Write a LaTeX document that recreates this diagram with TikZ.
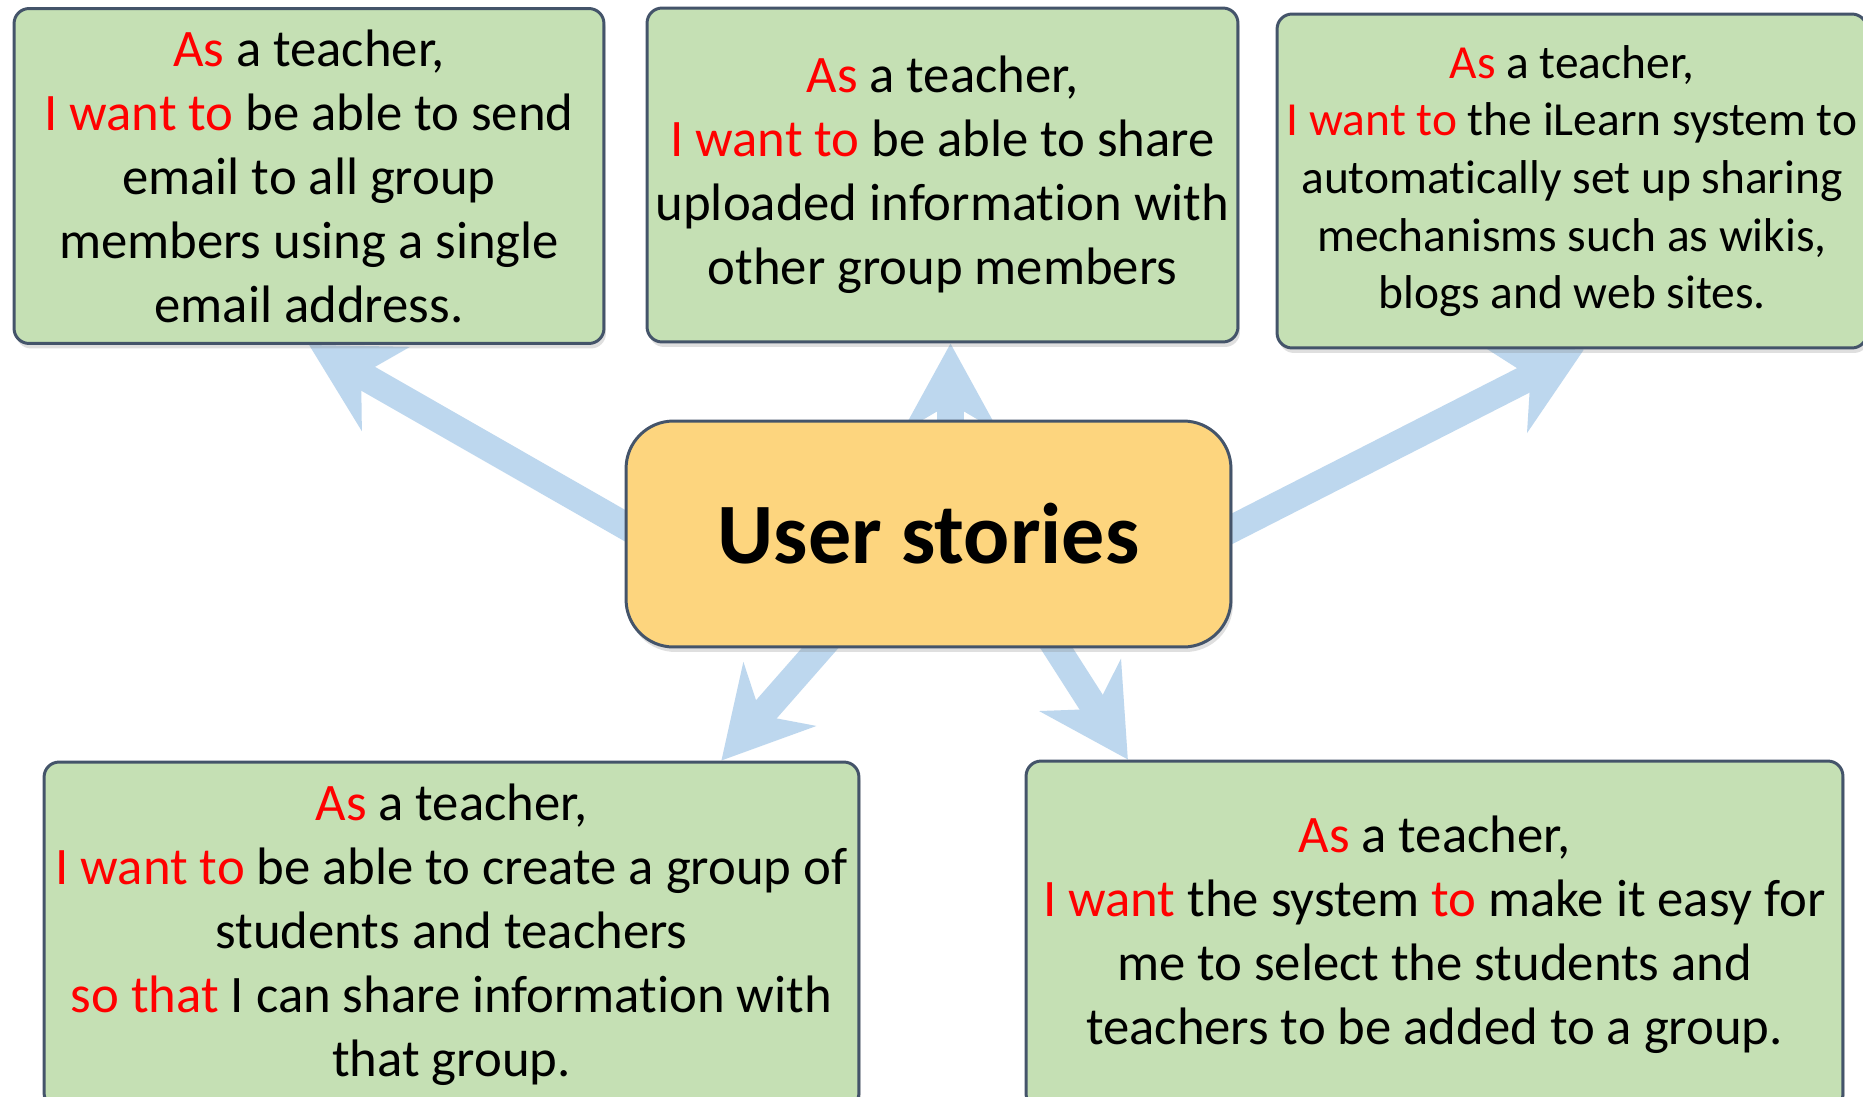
\documentclass[tikz,border=0pt]{standalone}
\usepackage{fontspec}
\setmainfont{Carlito}[Ligatures=NoCommon]
\usetikzlibrary{arrows.meta, calc, shadows, backgrounds}
\definecolor{storygreen}{RGB}{197,224,180}
\definecolor{hubgold}{RGB}{253,213,126}
\definecolor{edgeslate}{RGB}{68,84,106}
\definecolor{flowblue}{RGB}{189,215,238}
\newcommand{\kw}[1]{\textcolor{red}{#1}}
\tikzset{
  story/.style={draw=edgeslate, line width=1.7pt, fill=storygreen, rounded corners=0.3cm,
    align=center, inner sep=0pt, font=\fontsize{30}{36.4}\selectfont,
    drop shadow={shadow xshift=0.04cm, shadow yshift=-0.1cm, opacity=0.25}},
  hub/.style={draw=edgeslate, line width=1.7pt, fill=hubgold, rounded corners=0.95cm,
    align=center, inner sep=0pt, font=\fontsize{49}{60}\selectfont\bfseries,
    drop shadow={shadow xshift=0.04cm, shadow yshift=-0.1cm, opacity=0.25}},
  flow/.style={draw=flowblue, line width=0.55cm, -{Stealth[length=1.75cm, width=1.9cm, inset=0.55cm]}}
}

\begin{document}
\begin{tikzpicture}[x=0.02cm,y=-0.02cm]
  \useasboundingbox (0,0) rectangle (1863,1096);
  % Central topic
  \node[hub, minimum width=12.1cm, minimum height=4.52cm] (us) at(928.5,534) {User stories};
  % Top row of stories
  \node[story, minimum width=11.8cm, minimum height=6.7cm] (s1) at(309,176)
    {\kw{As} a teacher,\\ \kw{I want to} be able to send\\ email to all group\\ members using a single\\ email address.};
  \node[story, minimum width=11.82cm, minimum height=6.68cm] (s2) at(942.5,175)
    {\kw{As} a teacher,\\ \kw{I want to} be able to share\\ uploaded information with\\ other group members};
  \node[story, minimum width=11.8cm, minimum height=6.68cm, font=\fontsize{27}{32.8}\selectfont] (s3) at(1572,181)
    {\kw{As} a teacher,\\ \kw{I want to} the iLearn system to\\ automatically set up sharing\\ mechanisms such as wikis,\\ blogs and web sites.};
  % Bottom row of stories
  \node[story, minimum width=16.3cm, minimum height=6.92cm] (s4) at(451.5,935)
    {\kw{As} a teacher,\\ \kw{I want to} be able to create a group of\\ students and teachers\\ \kw{so that} I can share information with\\ that group.};
  \node[story, minimum width=16.34cm, minimum height=6.96cm] (s5) at(1434.5,935)
    {\kw{As} a teacher,\\ \kw{I want} the system \kw{to} make it easy for\\ me to select the students and\\ teachers to be added to a group.};
  % Arrows behind the boxes
  \begin{scope}[on background layer]
    \fill[white](0,0) rectangle (1863,1096);
    \draw[flow]($(us.west)+(50,20)$) -- (s1.south);
    \draw[flow]($(us.north -| s2.south)+(8,20)$) -- ($(s2.south)+(8,0)$);
    \draw[flow]($(us.east)+(-50,20)$) -- ($(s3.south)+(12,0)$);
    \draw[flow]($(us.south west)!0.35!(us.south east)+(0,-20)$) -- ($(s4.north west)!0.83!(s4.north east)$);
    \draw[flow]($(us.south west)!0.69!(us.south east)+(0,-20)$) -- ($(s5.north west)!0.126!(s5.north east)$);
  \end{scope}
\end{tikzpicture}
\end{document}
